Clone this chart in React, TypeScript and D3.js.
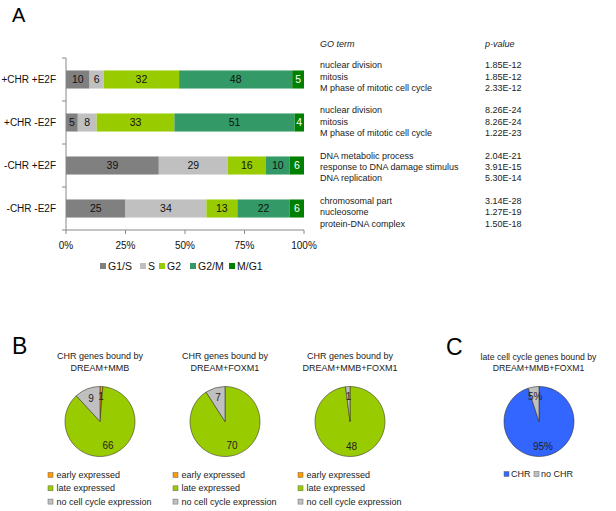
import React from "react";
import * as d3 from "d3";

const categories = ["+CHR +E2F", "+CHR -E2F", "-CHR +E2F", "-CHR -E2F"];
const phases = ["G1/S", "S", "G2", "G2/M", "M/G1"];
const g1s = [10, 5, 39, 25];
const sPhase = [6, 8, 29, 34];
const g2 = [32, 33, 16, 13];
const g2m = [48, 51, 10, 22];
const mg1 = [5, 4, 6, 6];
const xTicks = [0, 0.25, 0.5, 0.75, 1];

const goTerms = [
  ["nuclear division", "mitosis", "M phase of mitotic cell cycle"],
  ["nuclear division", "mitosis", "M phase of mitotic cell cycle"],
  ["DNA metabolic process", "response to DNA damage stimulus", "DNA replication"],
  ["chromosomal part", "nucleosome", "protein-DNA complex"],
];
const goPvalues = [
  ["1.85E-12", "1.85E-12", "2.33E-12"],
  ["8.26E-24", "8.26E-24", "1.22E-23"],
  ["2.04E-21", "3.91E-15", "5.30E-14"],
  ["3.14E-28", "1.27E-19", "1.50E-18"],
];

const pieBTitles = ["DREAM+MMB", "DREAM+FOXM1", "DREAM+MMB+FOXM1"];
const pieBCategories = ["early expressed", "late expressed", "no cell cycle expression"];
const pieBValues = [
  [1, 66, 9],
  [0, 70, 7],
  [0, 48, 1],
];
const pieCCategories = ["CHR", "no CHR"];
const pieCValues = [95, 5];

const FONT = "'Liberation Sans', Arial, sans-serif";
const phaseColors = ["#808080", "#c0c0c0", "#99cc00", "#339966", "#008000"];
const phaseText = ["#111", "#111", "#111", "#111", "#fff"];
const pieBColors = ["#ff9900", "#99cc00", "#c0c0c0"];
const pieCColors = ["#3366ff", "#c0c0c0"];
const legendAX = [100, 140, 159, 190, 229];

export default function App() {
  const rows = categories.map((c, i) => ({
    cat: c,
    "G1/S": g1s[i],
    S: sPhase[i],
    G2: g2[i],
    "G2/M": g2m[i],
    "M/G1": mg1[i],
  }));
  const stacked = d3.stack<any>().keys(phases).offset(d3.stackOffsetExpand)(rows);
  const x = d3.scaleLinear().domain([0, 1]).range([66, 304]);
  const y = d3
    .scaleBand()
    .domain(categories)
    .range([58, 230])
    .paddingInner(0.58)
    .paddingOuter(0.29);

  const bandEdges = d3.range(categories.length + 1).map((i) => 58 + i * y.step());

  const groupStartY = [65.3, 110.3, 155.7, 201];
  const rowGap = 11.2;

  const pieGen = d3.pie<number>().sort(null).value((d) => d);
  const r = 35;
  const arc = d3.arc<any>().innerRadius(0).outerRadius(r);
  const labelArc = d3.arc<any>().innerRadius(25).outerRadius(25);
  const pieBCenters = [100, 225, 350];
  const pieCy = 421.5;

  return (
    <svg
      width={616}
      height={511}
      style={{ display: "block", position: "absolute", left: 0, top: 0 }}
      fontFamily={FONT}
    >
      <rect x={0} y={0} width={616} height={511} fill="#fff" />
      {/* Panel A */}
      <text x={12} y={21.5} fontSize={20} fill="#000">A</text>
      {stacked.map((layer, li) => (
        <g key={layer.key}>
          {layer.map((d, i) => {
            const x0 = x(d[0]);
            const x1 = x(d[1]);
            const yy = y(categories[i])!;
            const val = (rows[i] as any)[layer.key];
            return (
              <g key={i}>
                <rect x={x0} y={yy} width={x1 - x0} height={y.bandwidth()} fill={phaseColors[li]} />
                <text
                  x={(x0 + x1) / 2}
                  y={yy + y.bandwidth() / 2}
                  dy="0.36em"
                  textAnchor="middle"
                  fontSize={10.5}
                  fill={phaseText[li]}
                >
                  {val}
                </text>
              </g>
            );
          })}
        </g>
      ))}
      {/* axes */}
      <line x1={66} x2={66} y1={58} y2={230} stroke="#888" strokeWidth={1} />
      {bandEdges.map((e, i) => (
        <line key={i} x1={62} x2={66} y1={e} y2={e} stroke="#888" />
      ))}
      <line x1={66} x2={304} y1={230} y2={230} stroke="#888" strokeWidth={1} />
      {xTicks.map((t) => (
        <g key={t}>
          <line x1={x(t)} x2={x(t)} y1={230} y2={234} stroke="#888" />
          <text x={x(t)} y={249} textAnchor="middle" fontSize={10} fill="#111">
            {d3.format(".0%")(t)}
          </text>
        </g>
      ))}
      {categories.map((c) => (
        <text
          key={c}
          x={56}
          y={y(c)! + y.bandwidth() / 2}
          dy="0.36em"
          textAnchor="end"
          fontSize={10}
          fill="#111"
        >
          {c}
        </text>
      ))}
      {phases.map((p, i) => (
        <g key={p}>
          <rect x={legendAX[i]} y={263} width={6} height={6} fill={phaseColors[i]} />
          <text x={legendAX[i] + 8} y={269.8} fontSize={10.5} fill="#111">
            {p}
          </text>
        </g>
      ))}
      {/* GO table */}
      <text x={320} y={47} fontSize={9} fontStyle="italic" fill="#222">GO term</text>
      <text x={485} y={47} fontSize={9} fontStyle="italic" fill="#222">p-value</text>
      {goTerms.map((g, gi) =>
        g.map((t, ti) => (
          <g key={gi + "-" + ti}>
            <text x={320} y={groupStartY[gi] + ti * rowGap} dy="0.35em" fontSize={9} fill="#222">
              {t}
            </text>
            <text x={485} y={groupStartY[gi] + ti * rowGap} dy="0.35em" fontSize={9} fill="#222">
              {goPvalues[gi][ti]}
            </text>
          </g>
        ))
      )}

      {/* Panel B */}
      <text x={12} y={354} fontSize={23} fill="#000">B</text>
      {pieBValues.map((vals, pi) => {
        const cx = pieBCenters[pi];
        const arcs = pieGen(vals);
        return (
          <g key={pi}>
            <text x={cx} y={359} textAnchor="middle" fontSize={9} fill="#222">
              CHR genes bound by
            </text>
            <text x={cx} y={370.5} textAnchor="middle" fontSize={9} fill="#222">
              {pieBTitles[pi]}
            </text>
            <g transform={`translate(${cx},${pieCy})`}>
              {arcs.map((a, ai) =>
                a.value > 0 ? (
                  <path key={ai} d={arc(a)!} fill={pieBColors[ai]} stroke="#3a3a2a" strokeWidth={0.6} />
                ) : null
              )}
              {arcs.map((a, ai) => {
                if (a.value <= 0) return null;
                const [lx, ly] = labelArc.centroid(a);
                return (
                  <text key={"l" + ai} x={lx} y={ly} dy="0.36em" textAnchor="middle" fontSize={10} fill="#222">
                    {a.value}
                  </text>
                );
              })}
            </g>
            {pieBCategories.map((c, ci) => (
              <g key={c}>
                <rect
                  x={cx - 52}
                  y={472.5 + ci * 13.3}
                  width={5}
                  height={5}
                  fill={pieBColors[ci]}
                  stroke="#666"
                  strokeWidth={0.5}
                />
                <text x={cx - 43.5} y={475 + ci * 13.3} dy="0.35em" fontSize={9} fill="#222">
                  {c}
                </text>
              </g>
            ))}
          </g>
        );
      })}

      {/* Panel C */}
      <text x={446} y={355} fontSize={23} fill="#000">C</text>
      <text x={538.5} y={359.5} textAnchor="middle" fontSize={8.7} fill="#222">
        late cell cycle genes bound by
      </text>
      <text x={538.5} y={370.5} textAnchor="middle" fontSize={8.7} fill="#222">
        DREAM+MMB+FOXM1
      </text>
      <g transform={`translate(539,${pieCy})`}>
        {pieGen(pieCValues).map((a, ai) => (
          <path key={ai} d={arc(a)!} fill={pieCColors[ai]} stroke="#333" strokeWidth={0.6} />
        ))}
        {pieGen(pieCValues).map((a, ai) => {
          const [lx, ly] = labelArc.centroid(a);
          return (
            <text key={"l" + ai} x={lx} y={ly} dy="0.36em" textAnchor="middle" fontSize={10} fill="#222">
              {a.value + "%"}
            </text>
          );
        })}
      </g>
      {pieCCategories.map((c, ci) => {
        const lx = [504, 534][ci];
        return (
          <g key={c}>
            <rect x={lx} y={471.5} width={5} height={5} fill={pieCColors[ci]} stroke="#666" strokeWidth={0.5} />
            <text x={lx + 7} y={474} dy="0.35em" fontSize={9} fill="#222">
              {c}
            </text>
          </g>
        );
      })}
    </svg>
  );
}
